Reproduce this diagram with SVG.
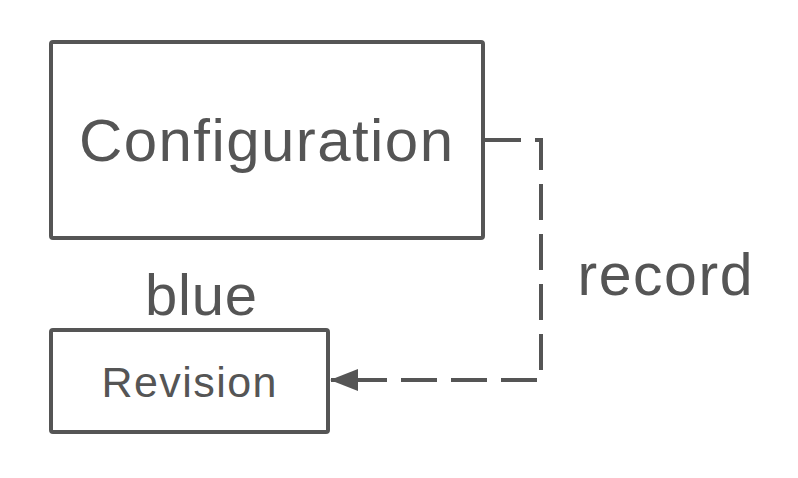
<svg xmlns="http://www.w3.org/2000/svg" width="798" height="478" viewBox="0 0 798 478">
<style>
.box{fill:#fff;stroke:#555;stroke-width:4}
.t{font-family:"Liberation Sans",Arial,sans-serif;fill:#555}
.edge{fill:none;stroke:#555;stroke-width:4;stroke-dasharray:36 14}
</style>
<defs>
<marker id="arr" markerWidth="28" markerHeight="22" refX="27" refY="11" orient="auto" markerUnits="userSpaceOnUse">
<path d="M0,0 L28,11 L0,22 Z" fill="#555"/>
</marker>
</defs>
<rect width="798" height="478" fill="#fff"/>
<g id="Configuration">
<rect class="box" x="51" y="42" width="432" height="196" rx="2"/>
<text class="t" x="266" y="161" font-size="60" text-anchor="middle" textLength="374">Configuration</text>
</g>
<g id="Revision">
<rect class="box" x="51" y="330" width="277" height="102" rx="2"/>
<text class="t" x="189" y="397" font-size="43" text-anchor="middle" textLength="175">Revision</text>
<text class="t" x="201" y="315" font-size="58" text-anchor="middle" textLength="112">blue</text>
</g>
<g id="connectors">
<path class="edge" d="M485,140 L541,140 L541,380 L331,380" marker-end="url(#arr)"/>
<text class="t" x="665" y="295" font-size="59" text-anchor="middle" textLength="175">record</text>
</g>
</svg>
